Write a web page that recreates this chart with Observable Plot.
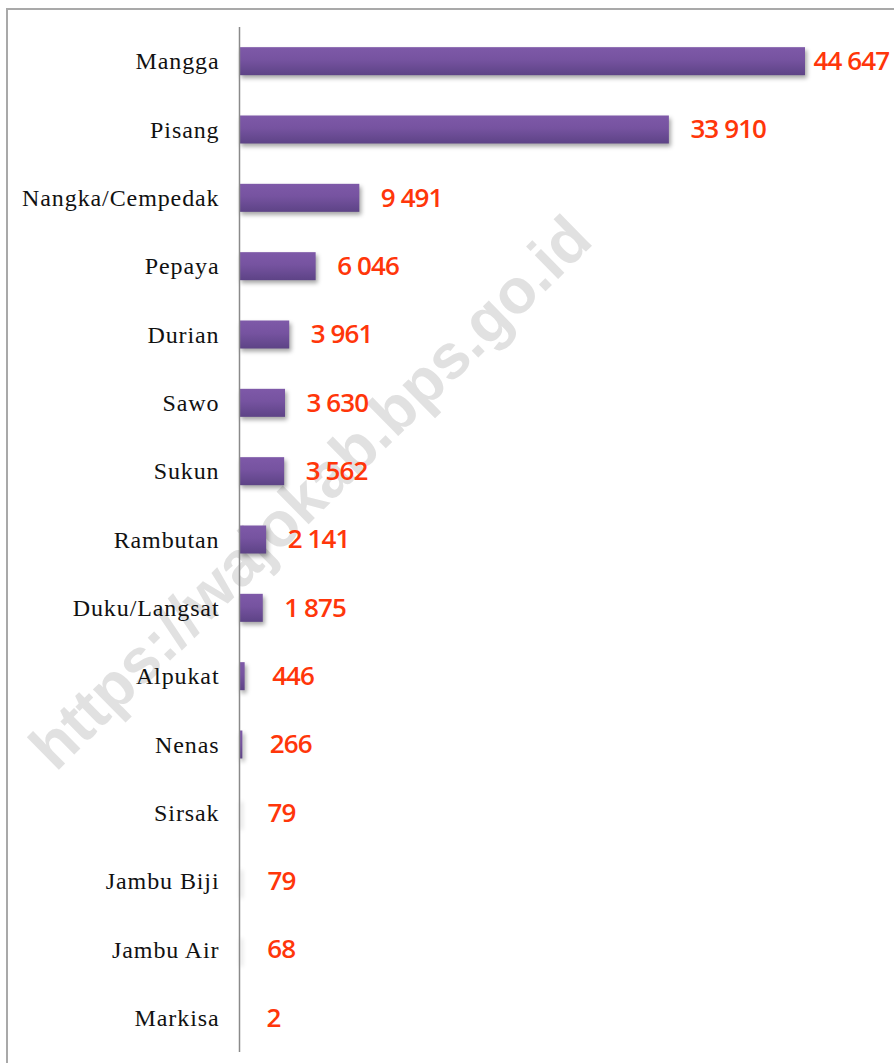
<!DOCTYPE html>
<html><head><meta charset="utf-8">
<script src="https://cdn.jsdelivr.net/npm/d3@7"></script>
<script src="https://cdn.jsdelivr.net/npm/@observablehq/plot@0.6"></script>
<style>
html,body{margin:0;padding:0;background:#fff;}
#wrap{position:relative;width:894px;height:1063px;overflow:hidden;}
#frame{position:absolute;left:6px;top:8px;width:1000px;height:1200px;border:2px solid #a9a9a9;box-sizing:border-box;}
#wm{position:absolute;left:310px;top:492px;transform:translate(-50%,-50%) rotate(-44.5deg);font:bold 63px "Liberation Sans",Arial,sans-serif;color:#e1e1e1;white-space:nowrap;}
#chart{position:absolute;left:0;top:0;}
</style></head>
<body><div id="wrap"><div id="frame"></div><div id="wm">https://wajokab.bps.go.id</div><div id="chart"></div></div>
<script>
const categories = ["Mangga","Pisang","Nangka/Cempedak","Pepaya","Durian","Sawo","Sukun","Rambutan","Duku/Langsat","Alpukat","Nenas","Sirsak","Jambu Biji","Jambu Air","Markisa"];
const values = [44647,33910,9491,6046,3961,3630,3562,2141,1875,446,266,79,79,68,2];

const data = categories.map((c, i) => ({cat: c, value: values[i]}));
const fmt = v => d3.format(",")(v).replace(/,/g, " ");
const maxV = d3.max(values);
const labelStyle = {x: "value", y: "cat", text: d => fmt(d.value), textAnchor: "start",
  fill: "#ff360a", fontSize: 26, fontWeight: 600, fontFamily: "Open Sans"};

const plot = Plot.plot({
  width: 894, height: 1063,
  marginLeft: 239, marginRight: 89, marginTop: 27, marginBottom: 11,
  style: {background: "transparent", overflow: "visible"},
  x: {axis: null},
  y: {domain: categories, paddingInner: 0.59, paddingOuter: 0.295, round: false, axis: null},
  marks: [
    Plot.barX(data, {x: "value", y: "cat", fill: "url(#barGrad)"}),
    Plot.ruleX([0], {stroke: "#8a8a8a", strokeWidth: 1.5}),
    Plot.axisY({tickSize: 0, tickPadding: 20, fontSize: 24, fontFamily: "Liberation Serif", fill: "#111", label: null}),
    Plot.text(data.filter(d => d.value === maxV), {...labelStyle, dx: 8}),
    Plot.text(data.filter(d => d.value < maxV && d.value >= 1000), {...labelStyle, dx: 21}),
    Plot.text(data.filter(d => d.value < 1000), {...labelStyle, dx: 27})
  ]
});

const svg = d3.select(plot);
const defs = svg.insert("defs", ":first-child");
const g = defs.append("linearGradient").attr("id", "barGrad").attr("x1", 0).attr("y1", 0).attr("x2", 0).attr("y2", 1);
g.append("stop").attr("offset", "0%").attr("stop-color", "#7e59a8");
g.append("stop").attr("offset", "45%").attr("stop-color", "#7653a0");
g.append("stop").attr("offset", "100%").attr("stop-color", "#5d4386");
svg.selectAll('g[aria-label="bar"]').style("filter", "drop-shadow(2px 3px 2px rgba(0,0,0,0.35))");
svg.selectAll('g[aria-label="y-axis tick label"]').attr("font-family", "Liberation Serif").attr("font-size", 24).attr("letter-spacing", "0.9px").attr("fill", "#111");
svg.selectAll('g[aria-label="text"]').attr("letter-spacing", "-0.9px");
document.getElementById("chart").appendChild(plot);
</script>
</body></html>
